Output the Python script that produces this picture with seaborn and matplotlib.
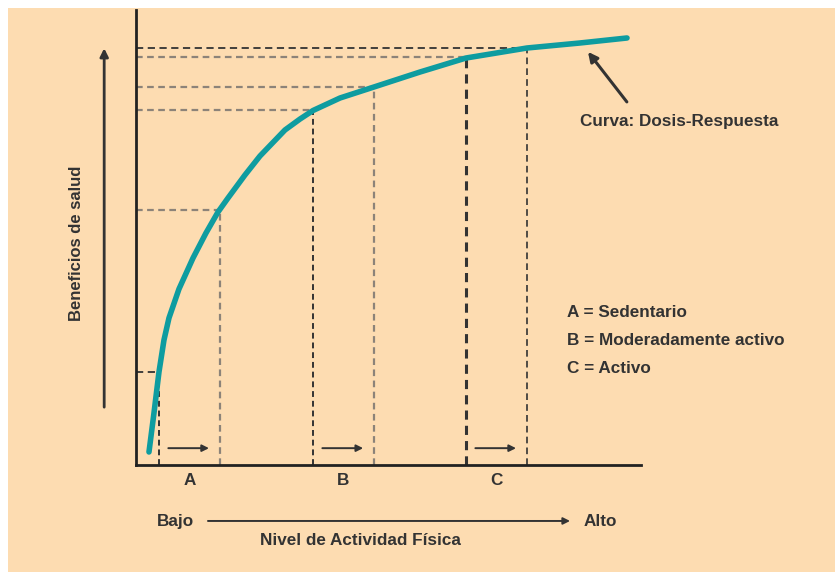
import pandas as pd
import matplotlib.pyplot as plt
import seaborn as sns
from matplotlib.patches import Rectangle

# Curve (x: activity level 0-100, y: health benefit 0-100)
curve_x = [2.57, 3.56, 4.55, 5.54, 6.53, 8.51, 11.29, 13.86, 16.24, 18.22, 21.58, 24.55,
           29.50, 32.48, 35.05, 40.40, 47.13, 56.24, 65.35, 77.43, 87.92, 97.23]
curve_y = [2.86, 11.43, 20.44, 27.47, 32.31, 38.68, 45.49, 50.99, 55.60, 58.68, 63.74, 67.91,
           73.63, 76.04, 77.91, 80.66, 83.08, 86.37, 89.45, 91.65, 92.75, 93.85]

# Zone limits on the curve (start, end) for A, B, C
zones = ['A', 'B', 'C']
zone_start_x = [4.55, 35.05, 65.35]
zone_start_y = [20.4, 78.0, 89.7]
zone_end_x = [16.6, 47.13, 77.4]
zone_end_y = [56.0, 83.1, 91.6]

legend_lines = ['A = Sedentario', 'B = Moderadamente activo', 'C = Activo']

peach = '#FDDCB1'
teal = '#0E9CA0'
dark = '#333333'
gray = '#8C8379'
fs = 12.3

sns.set_style("white")
plt.rcParams['font.family'] = ['Liberation Sans', 'DejaVu Sans']

fig = plt.figure(figsize=(8.35, 5.72), dpi=100)
fig.patch.set_facecolor('white')
fig.patches.append(Rectangle((8 / 835, 0), 1, 564 / 572, transform=fig.transFigure,
                             facecolor=peach, edgecolor='none', zorder=-10))

ax = fig.add_axes([136 / 835, 107 / 572, 505 / 835, 455 / 572])
ax.set_facecolor('none')
ax.set_xlim(0, 100)
ax.set_ylim(0, 100)

df = pd.DataFrame({'x': curve_x, 'y': curve_y})
sns.lineplot(data=df, x='x', y='y', ax=ax, color=teal, linewidth=4,
             solid_capstyle='round', solid_joinstyle='round', sort=False, zorder=5)

# guide lines
for i in range(3):
    # horizontal lines to the y axis
    c_start = dark if i == 0 else gray
    c_end = dark if i == 2 else gray
    ax.plot([0, zone_start_x[i]], [zone_start_y[i]] * 2, color=c_start,
            dashes=(4, 2.5) if i == 0 else (3, 2), lw=1.3 if i == 0 else 1.6)
    ax.plot([0, zone_end_x[i]], [zone_end_y[i]] * 2, color=c_end,
            dashes=(4, 2.5) if i == 2 else (3, 2), lw=1.3 if i == 2 else 1.6)
    # vertical lines to the x axis
    ax.plot([zone_start_x[i]] * 2, [0, zone_start_y[i]], color=dark,
            dashes=(3, 2), lw=2.2 if i == 2 else 1.4)
    ax.plot([zone_end_x[i]] * 2, [0, zone_end_y[i]], color=gray if i < 2 else dark,
            dashes=(3, 2) if i < 2 else (4, 2.5), lw=1.6 if i < 2 else 1.2)
    # small arrows
    ax.annotate('', xy=(zone_end_x[i] - 1.6, 3.7), xytext=(zone_start_x[i] + 1.3, 3.7),
                arrowprops=dict(arrowstyle='-|>', color=dark, lw=1.4, mutation_scale=10))
    ax.text((zone_start_x[i] + zone_end_x[i]) / 2, -3.3, zones[i], ha='center', va='center',
            fontsize=fs, fontweight='bold', color=dark, clip_on=False)

# bottom axis description
ax.text(7.9, -12.4, 'Bajo', ha='center', va='center', fontsize=fs, fontweight='bold', color=dark)
ax.annotate('', xy=(86.5, -12.3), xytext=(13.7, -12.3), annotation_clip=False,
            arrowprops=dict(arrowstyle='-|>', color=dark, lw=1.4, mutation_scale=10))
ax.text(88.6, -12.4, 'Alto', ha='left', va='center', fontsize=fs, fontweight='bold', color=dark)
ax.text(44.4, -16.6, 'Nivel de Actividad Física', ha='center', va='center',
        fontsize=fs, fontweight='bold', color=dark)

# left axis description
ax.annotate('', xy=(-6.3, 92.2), xytext=(-6.3, 12.1), annotation_clip=False,
            arrowprops=dict(arrowstyle='-|>', color=dark, lw=2, mutation_scale=12))
ax.text(-11.7, 48.8, 'Beneficios de salud', rotation=90, ha='center', va='center',
        fontsize=12, fontweight='bold', color=dark)

# legend text
for i, line in enumerate(legend_lines):
    ax.text(85.3, 33.6 - 6.25 * i, line, ha='left', va='center', fontsize=fs,
            fontweight='bold', color=dark, clip_on=False)

# curve label with its arrow
ax.annotate('', xy=(89.5, 90.8), xytext=(97.2, 79.8), annotation_clip=False,
            arrowprops=dict(arrowstyle='-|>', color=dark, lw=2.2, mutation_scale=14,
                            shrinkA=0, shrinkB=0))
ax.text(87.9, 75.4, 'Curva: Dosis-Respuesta', ha='left', va='center', fontsize=fs,
        fontweight='bold', color=dark, clip_on=False)

sns.despine(ax=ax)
for s in ['left', 'bottom']:
    ax.spines[s].set_color('#222222')
    ax.spines[s].set_linewidth(2)
ax.set_xticks([])
ax.set_yticks([])
ax.set_xlabel('')
ax.set_ylabel('')

fig.savefig('out.png', dpi=100)
